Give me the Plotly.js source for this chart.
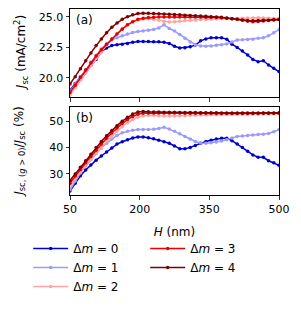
<!DOCTYPE html>
<html>
<head>
<meta charset="utf-8">
<script src="https://cdn.plot.ly/plotly-3.0.1.min.js"></script>
<style>html,body{margin:0;padding:0;background:#fff;}#chart{width:301px;height:310px;}</style>
</head>
<body>
<div id="chart"></div>
<script>
var H = [50,61.25,72.5,83.75,95,106.25,117.5,128.75,140,151.25,162.5,173.75,185,196.25,207.5,218.75,230,241.25,252.5,263.75,275,286.25,297.5,308.75,320,331.25,342.5,353.75,365,376.25,387.5,398.75,410,421.25,432.5,443.75,455,466.25,477.5,488.75,500];

var seriesNames = ['Δ<i>m</i> = 0','Δ<i>m</i> = 1','Δ<i>m</i> = 2','Δ<i>m</i> = 3','Δ<i>m</i> = 4'];

var jsc_dm0 = [19.0,19.55,20.1,20.6,21.05,21.5,22.15,22.45,22.65,22.72,22.77,22.83,22.93,22.99,22.99,22.99,22.96,22.96,22.93,22.83,22.6,22.45,22.47,22.55,22.69,23.04,23.2,23.29,23.29,23.29,23.18,22.77,22.5,22.2,21.88,21.52,21.33,21.41,21.06,20.79,20.52];
var jsc_dm1 = [18.9,19.5,20.1,20.7,21.3,21.85,22.4,22.8,23.1,23.3,23.45,23.6,23.72,23.8,23.85,23.9,23.97,24.1,24.35,24.05,23.85,23.55,23.25,22.95,22.72,22.62,22.6,22.62,22.68,22.72,22.78,22.95,23.1,23.12,23.15,23.18,23.25,23.3,23.45,23.7,23.95];
var jsc_dm2 = [18.6,19.2,19.8,20.4,21.0,21.6,22.15,22.7,23.2,23.65,24.05,24.35,24.6,24.75,24.82,24.85,24.8,24.72,24.62,24.58,24.6,24.65,24.7,24.72,24.75,24.78,24.78,24.8,24.82,24.85,24.87,24.88,24.88,24.9,24.92,24.92,24.93,24.92,24.9,24.9,24.88];
var jsc_dm3 = [18.8,19.4,20.05,20.65,21.25,21.8,22.3,22.75,23.2,23.6,24.0,24.35,24.6,24.8,24.9,24.95,24.98,25.0,25.0,25.0,25.0,25.0,25.0,25.0,24.99,24.99,24.98,24.98,24.95,24.93,24.9,24.85,24.8,24.72,24.65,24.6,24.62,24.66,24.7,24.74,24.78];
var jsc_dm4 = [19.5,20.1,20.75,21.4,22.05,22.65,23.2,23.7,24.15,24.5,24.8,25.02,25.18,25.28,25.3,25.3,25.28,25.27,25.25,25.22,25.2,25.17,25.14,25.12,25.1,25.07,25.05,25.02,25.0,24.97,24.92,24.86,24.8,24.74,24.7,24.68,24.7,24.72,24.73,24.76,24.78];

var ratio_dm0 = [23.5,26.5,29.3,31.5,33.4,35.2,36.8,38.3,39.8,41.3,42.2,43.0,43.6,44.0,44.0,43.7,43.3,42.8,42.2,41.6,40.6,39.5,39.5,40.0,40.8,41.6,42.3,42.8,43.2,43.5,43.5,42.6,41.3,40.0,38.6,37.2,36.3,36.3,35.0,34.2,33.3];
var ratio_dm1 = [24.0,27.3,30.3,33.0,35.4,37.7,39.8,41.6,43.2,44.6,45.6,46.2,46.6,46.8,46.8,46.8,46.9,47.2,47.7,47.0,46.2,45.2,44.2,43.2,42.3,41.7,41.6,41.8,42.1,42.5,43.0,43.6,44.2,44.4,44.6,44.8,44.9,45.0,45.3,46.0,46.8];
var ratio_dm2 = [25.5,28.2,30.8,33.2,35.6,37.9,40.2,42.3,44.3,46.2,47.9,49.4,50.6,51.5,52.0,52.2,52.2,52.1,52.0,52.0,52.0,52.1,52.1,52.2,52.2,52.3,52.3,52.4,52.4,52.5,52.5,52.5,52.6,52.6,52.6,52.7,52.7,52.7,52.7,52.8,52.8];
var ratio_dm3 = [26.5,29.2,31.7,34.2,36.6,39.0,41.3,43.5,45.5,47.4,49.1,50.6,51.8,52.6,53.0,53.1,53.1,53.1,53.1,53.1,53.1,53.1,53.0,53.0,53.0,53.0,53.0,53.0,52.9,52.9,52.9,52.9,52.9,52.9,52.9,52.9,52.9,53.0,53.0,53.0,53.0];
var ratio_dm4 = [27.5,30.0,32.5,35.0,37.5,40.0,42.3,44.5,46.5,48.3,50.0,51.5,52.7,53.5,53.7,53.6,53.5,53.5,53.4,53.4,53.4,53.3,53.3,53.3,53.3,53.2,53.2,53.2,53.2,53.1,53.1,53.1,53.1,53.1,53.1,53.1,53.1,53.1,53.1,53.1,53.2];

var colors = ['#0000d0','#9a9aff','#ffa3a3','#e60000','#800000'];
var legendRanks = [1,3,5,2,4];

var jscSeries = [jsc_dm0,jsc_dm1,jsc_dm2,jsc_dm3,jsc_dm4];
var ratioSeries = [ratio_dm0,ratio_dm1,ratio_dm2,ratio_dm3,ratio_dm4];

var traces = [];
for (var k = 0; k < 5; k++) {
  traces.push({
    x: H, y: jscSeries[k], xaxis: 'x', yaxis: 'y', type: 'scatter', mode: 'lines+markers',
    line: {color: colors[k], width: 1.5}, marker: {color: colors[k], size: 3.5},
    showlegend: false, hoverinfo: 'skip'
  });
}
for (var k = 0; k < 5; k++) {
  traces.push({
    x: H, y: ratioSeries[k], xaxis: 'x2', yaxis: 'y2', type: 'scatter', mode: 'lines+markers',
    name: seriesNames[k], legendrank: legendRanks[k],
    line: {color: colors[k], width: 1.5}, marker: {color: colors[k], size: 3.5},
    showlegend: true, hoverinfo: 'skip'
  });
}

var fontFam = 'DejaVu Sans, sans-serif';
var axisCommon = {
  showline: true, linecolor: '#000', linewidth: 1, mirror: true,
  ticks: 'outside', ticklen: 3.5, tickwidth: 0.8, tickcolor: '#000',
  showgrid: false, zeroline: false, tickfont: {family: fontFam, size: 11, color: '#000'}
};
function ax(o) { var r = {}; for (var a in axisCommon) r[a] = axisCommon[a]; for (var b in o) r[b] = o[b]; return r; }

var layout = {
  width: 301, height: 310,
  margin: {l: 70, r: 22, t: 9, b: 112},
  paper_bgcolor: '#fff', plot_bgcolor: '#fff',
  font: {family: fontFam, size: 12, color: '#000'},
  xaxis: ax({anchor: 'y', range: [50, 500], tick0: 50, dtick: 150, showticklabels: false}),
  yaxis: ax({anchor: 'x', domain: [0.5265, 1], range: [18.43, 25.65], tick0: 20, dtick: 2.5, tickformat: '.1f'}),
  xaxis2: ax({anchor: 'y2', matches: 'x', range: [50, 500], tick0: 50, dtick: 150,
    title: {text: '<i>H</i> (nm)', font: {family: fontFam, size: 12}, standoff: 12}}),
  yaxis2: ax({anchor: 'x2', domain: [0, 0.4735], range: [22.0, 55.4], tick0: 30, dtick: 10}),
  legend: {orientation: 'h', x: -0.2, xanchor: 'left', y: -0.21, yanchor: 'top',
    entrywidth: 67, entrywidthmode: 'pixels', itemwidth: 35, traceorder: 'normal',
    font: {family: fontFam, size: 12, color: '#000'}, bgcolor: 'rgba(0,0,0,0)'},
  annotations: [
    {text: '(a)', xref: 'x domain', yref: 'y domain', x: 0.02, y: 0.98, xanchor: 'left', yanchor: 'top', showarrow: false, font: {family: fontFam, size: 12}},
    {text: '(b)', xref: 'x2 domain', yref: 'y2 domain', x: 0.02, y: 0.98, xanchor: 'left', yanchor: 'top', showarrow: false, font: {family: fontFam, size: 12}},
    {text: '<i>J</i><sub>sc</sub> (mA/cm<sup>2</sup>)', xref: 'paper', yref: 'y domain', x: -0.234, y: 0.5,
      xanchor: 'center', yanchor: 'middle', textangle: -90, showarrow: false, font: {family: fontFam, size: 12}},
    {text: '<i>J</i><sub>sc, (<i>g</i> > 0)</sub>/<i>J</i><sub>sc</sub> (%)', xref: 'paper', yref: 'y2 domain', x: -0.24, y: 0.5,
      xanchor: 'center', yanchor: 'middle', textangle: -90, showarrow: false, font: {family: fontFam, size: 12}}
  ]
};

Plotly.newPlot('chart', traces, layout, {displayModeBar: false, staticPlot: true});
</script>
</body>
</html>
